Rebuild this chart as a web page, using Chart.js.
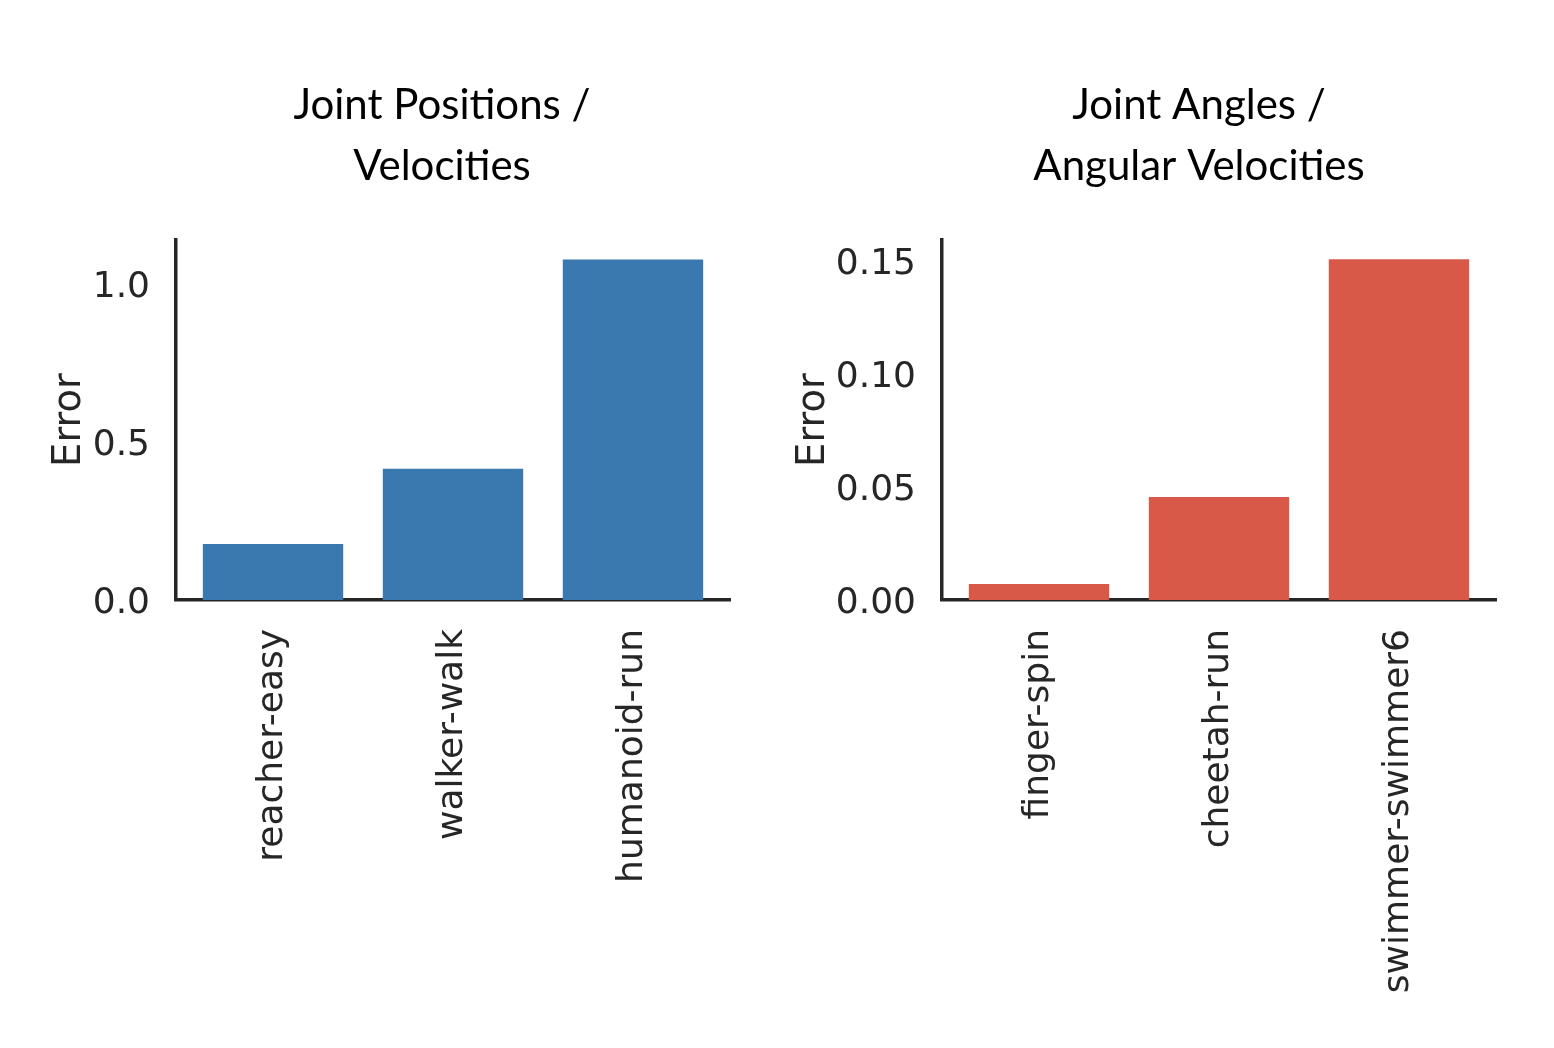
<!DOCTYPE html>
<html>
<head>
<meta charset="utf-8">
<script src="https://cdn.jsdelivr.net/npm/chart.js@4.4.1/dist/chart.umd.min.js"></script>
<style>
  html, body { margin: 0; padding: 0; background: #fff; overflow: hidden; }
  #wrap { position: relative; width: 1554px; height: 1048px; overflow: hidden; }
  #posChart { position: absolute; left: 0; top: 0; }
  #angChart { position: absolute; left: 770px; top: 0; }
</style>
</head>
<body>
<div id="wrap">
  <canvas id="posChart" width="884" height="1048"></canvas>
  <canvas id="angChart" width="858" height="1048"></canvas>
</div>
<script>
// data
const posTasks = ['reacher-easy', 'walker-walk', 'humanoid-run'];
const posErrors = [0.177, 0.415, 1.077];
const posTicks = [0, 0.5, 1.0];

const angTasks = ['finger-spin', 'cheetah-run', 'swimmer-swimmer6'];
const angErrors = [0.0071, 0.0456, 0.1508];
const angTicks = [0, 0.05, 0.10, 0.15];

const posTitle = ['Joint Positions /', 'Velocities'];
const angTitle = ['Joint Angles /', 'Angular Velocities'];

const ink = '#262626';
const tickFont = { family: 'DejaVu Sans', size: 36 };

Chart.defaults.animation = false;
Chart.defaults.devicePixelRatio = 1;

function makeBars(canvasId, tasks, errors, color, title, yTicks, yMax, digits, yWidth, titlePad, rightPad) {
    const ctx = document.getElementById(canvasId).getContext('2d');
    return new Chart(ctx, {
        type: 'bar',
        data: {
            datasets: [{
                data: errors.map((v, i) => ({ x: i, y: v })),
                backgroundColor: color,
                borderWidth: 0,
                barPercentage: 0.78,
                categoryPercentage: 1.0
            }]
        },
        options: {
            responsive: false,
            maintainAspectRatio: false,
            layout: { padding: 0 },
            plugins: {
                legend: { display: false },
                tooltip: { enabled: false },
                title: {
                    display: true,
                    text: title,
                    color: '#000',
                    font: { family: 'Lato', size: 42, weight: 'normal', lineHeight: 61 / 42 },
                    padding: { top: 74.5, bottom: 43.5 }
                }
            },
            scales: {
                x: {
                    type: 'linear',
                    offset: false,
                    min: -0.539,
                    max: tasks.length - 1 + 0.539,
                    grid: { display: false, drawTicks: false, offset: false },
                    border: { display: true, color: ink, width: 3.5 },
                    afterBuildTicks: s => {
                        s.ticks = tasks.map((t, i) => ({ value: i }));
                    },
                    afterFit: s => { s.height = 448; },
                    ticks: {
                        autoSkip: false,
                        minRotation: 90,
                        maxRotation: 90,
                        padding: 29,
                        color: ink,
                        font: tickFont,
                        callback: v => tasks[v]
                    }
                },
                y: {
                    min: 0,
                    max: yMax,
                    grid: { display: false, drawTicks: false },
                    border: { display: true, color: ink, width: 3.5 },
                    afterBuildTicks: s => {
                        s.ticks = yTicks.map(v => ({ value: v }));
                    },
                    afterFit: s => { s.width = yWidth; },
                    ticks: {
                        padding: 26,
                        labelOffset: 3.5,
                        color: ink,
                        font: tickFont,
                        callback: v => Number(v).toFixed(digits)
                    },
                    title: {
                        display: true,
                        text: 'Error',
                        color: ink,
                        font: { family: 'DejaVu Sans', size: 38.5 },
                        padding: { top: titlePad, bottom: 0 }
                    }
                },
                // empty right scale only reserves room so the title centres like the original
                yr: {
                    position: 'right',
                    display: true,
                    grid: { display: false, drawTicks: false },
                    border: { display: false },
                    ticks: { display: false },
                    afterFit: s => { s.width = rightPad; }
                }
            }
        }
    });
}

const posChart = makeBars('posChart', posTasks, posErrors, '#3a78b0', posTitle, posTicks, 1.139, 1, 176, 47, 154);
const angChart = makeBars('angChart', angTasks, angErrors, '#d95948', angTitle, angTicks, 0.1593, 2, 172, 21, 132);
</script>
</body>
</html>
